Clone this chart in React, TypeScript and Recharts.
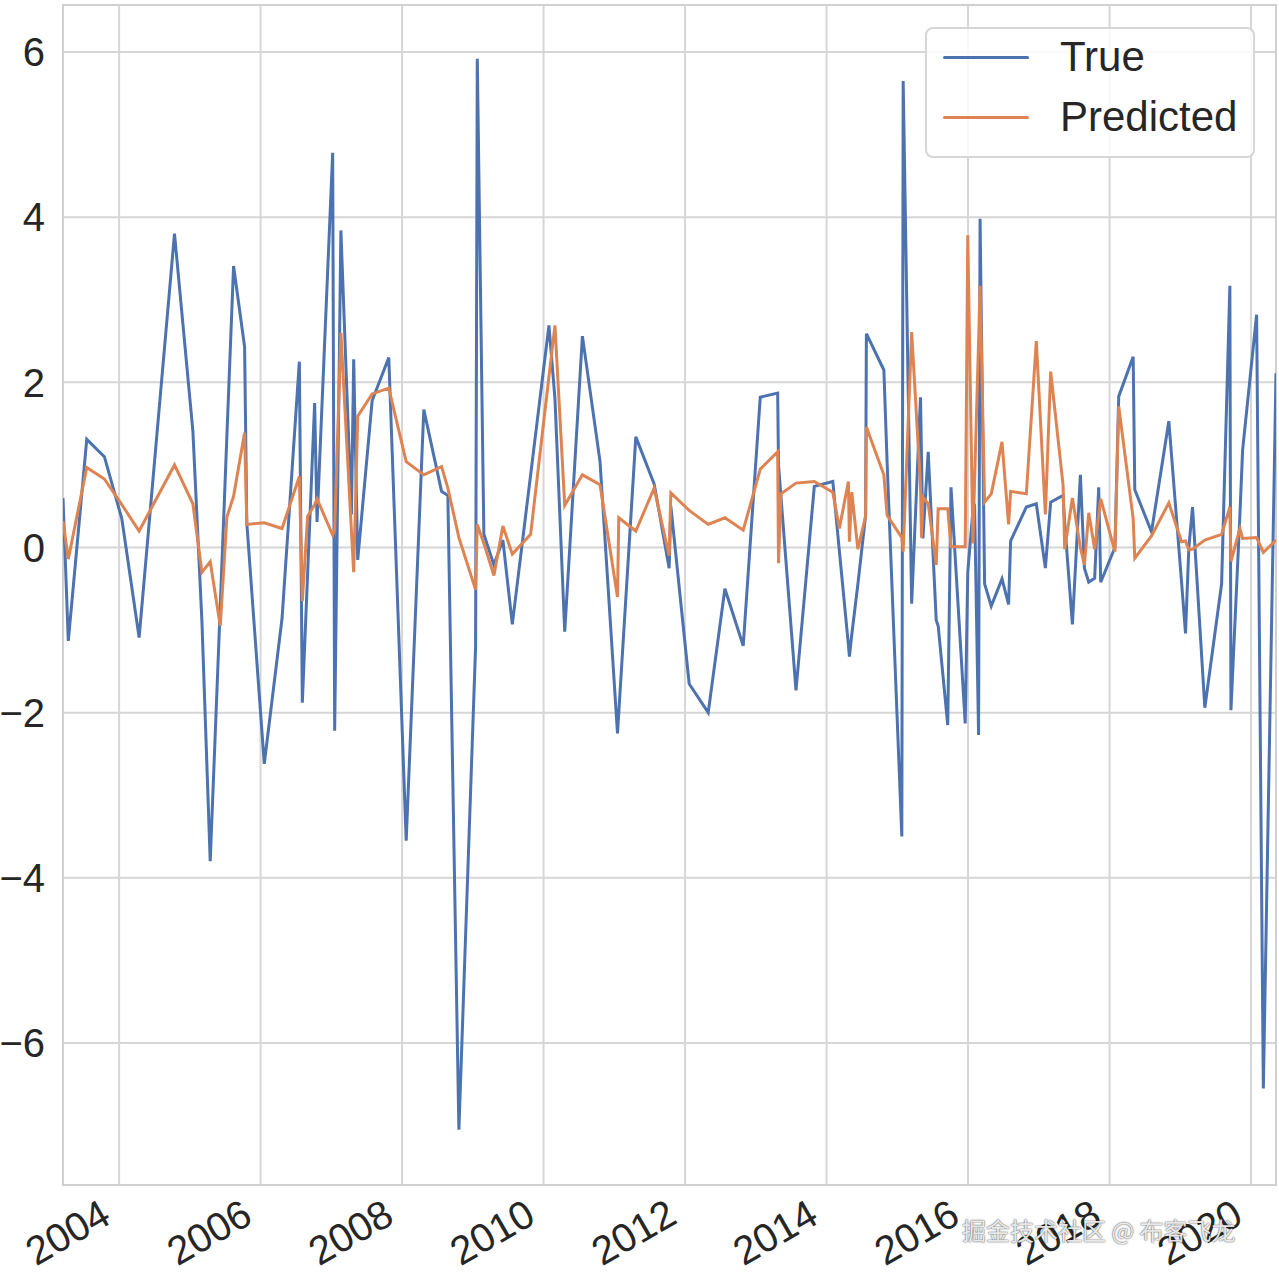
import React from "react";
import { LineChart, Line, XAxis, YAxis, CartesianGrid, ReferenceArea } from "recharts";

// decimal-year dates of each observation
const dates = [
  2003.207, 2003.282, 2003.543, 2003.792, 2004.038, 2004.283, 2004.783, 2005.043, 2005.171, 2005.288,
  2005.43, 2005.524, 2005.618, 2005.774, 2005.805, 2006.052, 2006.303, 2006.548, 2006.59, 2006.665,
  2006.764, 2006.798, 2007.019, 2007.047, 2007.135, 2007.284, 2007.316, 2007.373, 2007.577, 2007.812,
  2008.058, 2008.307, 2008.558, 2008.647, 2008.803, 2009.039, 2009.063, 2009.156, 2009.298, 2009.425,
  2009.558, 2009.817, 2010.076, 2010.161, 2010.299, 2010.549, 2010.798, 2011.045, 2011.063, 2011.304,
  2011.563, 2011.775, 2011.799, 2012.058, 2012.327, 2012.563, 2012.822, 2013.063, 2013.309, 2013.321,
  2013.356, 2013.568, 2013.827, 2014.088, 2014.181, 2014.309, 2014.323, 2014.357, 2014.442, 2014.552,
  2014.563, 2014.81, 2014.856, 2015.064, 2015.083, 2015.203, 2015.328, 2015.342, 2015.362, 2015.437,
  2015.55, 2015.578, 2015.713, 2015.759, 2015.96, 2015.996, 2016.069, 2016.092, 2016.149, 2016.17,
  2016.234, 2016.328, 2016.48, 2016.573, 2016.602, 2016.824, 2016.965, 2017.093, 2017.168, 2017.343,
  2017.366, 2017.475, 2017.588, 2017.645, 2017.706, 2017.79, 2017.847, 2017.875, 2018.076, 2018.13,
  2018.334, 2018.357, 2018.593, 2018.838, 2019.018, 2019.074, 2019.121, 2019.173, 2019.347, 2019.584,
  2019.701, 2019.716, 2019.843, 2019.881, 2020.079, 2020.174, 2020.353,
];

const trueValues = [
  0.6, -1.13, 1.31, 1.1, 0.35, -1.09, 3.8, 1.41, -0.9, -3.8,
  -0.71, 1.36, 3.41, 2.43, 0.3, -2.62, -0.86, 2.25, -1.88, -0.31,
  1.75, 0.31, 4.78, -2.22, 3.84, 0.4, 2.28, -0.15, 1.78, 2.3,
  -3.55, 1.67, 0.68, 0.63, -7.05, -1.2, 5.92, 0.16, -0.21, 0.09,
  -0.93, 0.88, 2.69, 1.8, -1.02, 2.56, 1.04, -2.25, -2.0, 1.34,
  0.77, -0.25, 0.5, -1.65, -2.0, -0.5, -1.19, 1.82, 1.87, 1.0,
  0.61, -1.73, 0.74, 0.8, -0.04, -1.18, -1.32, -1.05, -0.45, 0.39,
  2.59, 2.15, 1.03, -3.5, 5.65, -0.68, 1.82, 1.1, 0.11, 1.16,
  -0.88, -0.95, -2.15, 0.73, -2.13, -0.3, 0.45, 0.53, -2.27, 3.98,
  -0.44, -0.71, -0.38, -0.69, 0.08, 0.49, 0.53, -0.25, 0.55, 0.63,
  0.3, -0.93, 0.88, -0.25, -0.42, -0.37, 0.73, -0.42, 0.0, 1.83,
  2.31, 0.7, 0.19, 1.53, -0.42, -1.04, 0.0, 0.49, -1.94, -0.44,
  3.17, -1.97, 0.4, 1.18, 2.82, -6.55, 2.11,
];

const predictedValues = [
  0.32, -0.14, 0.97, 0.83, 0.52, 0.2, 1.0, 0.53, -0.3, -0.17,
  -0.95, 0.37, 0.62, 1.39, 0.28, 0.3, 0.23, 0.86, -0.65, 0.38,
  0.52, 0.59, 0.15, 0.22, 2.6, 0.2, -0.3, 1.59, 1.86, 1.93,
  1.04, 0.88, 0.98, 0.72, 0.12, -0.51, 0.28, 0.05, -0.34, 0.26,
  -0.08, 0.16, 2.07, 2.69, 0.51, 0.88, 0.76, -0.6, 0.36, 0.2,
  0.72, -0.1, 0.66, 0.45, 0.28, 0.36, 0.21, 0.95, 1.16, -0.19,
  0.65, 0.78, 0.8, 0.67, 0.23, 0.8, 0.07, 0.67, -0.02, 0.38,
  1.46, 0.88, 0.39, 0.12, -0.05, 2.61, 0.75, 0.12, 0.61, 0.53,
  -0.21, 0.47, 0.47, 0.01, 0.01, 3.78, 0.05, 0.8, 2.5, 3.17,
  0.55, 0.65, 1.28, 0.28, 0.68, 0.65, 2.5, 0.4, 2.13, 0.76,
  -0.02, 0.6, 0.0, -0.21, 0.42, -0.02, 0.4, 0.59, -0.05, 1.71,
  0.35, -0.13, 0.14, 0.54, 0.07, 0.08, -0.03, -0.02, 0.09, 0.16,
  0.49, -0.17, 0.23, 0.11, 0.12, -0.06, 0.09,
];

const xTicks = [2004, 2006, 2008, 2010, 2012, 2014, 2016, 2018, 2020];
const yTicks = [-6, -4, -2, 0, 2, 4, 6];
const seriesNames = ["True", "Predicted"];
const seriesColors = ["#4c72b0", "#dd8452"];
const watermark = "掘金技术社区 @ 布客飞龙";

const X_DOMAIN: [number, number] = [2003.207, 2020.353];
const Y_DOMAIN: [number, number] = [-7.72, 6.57];

const data = dates.map((d, i) => ({
  date: d,
  trueVal: trueValues[i],
  predicted: predictedValues[i],
}));

const FONT = "Arial, 'Liberation Sans', Helvetica, sans-serif";
const TEXT = "#262626";

const XTick = (props: any) => {
  const { x, y, payload } = props;
  const ax = x - 6;
  const ay = y + 37;
  return (
    <text
      x={ax}
      y={ay}
      textAnchor="end"
      fontSize={40}
      fontFamily={FONT}
      fill={TEXT}
      transform={`rotate(-30, ${ax}, ${ay})`}
    >
      {String(payload.value)}
    </text>
  );
};

const fmtY = (v: number) => (v < 0 ? "\u2212" + Math.abs(v) : String(v));

export default function App() {
  return (
    <div style={{ position: "absolute", left: 0, top: 0, width: 1279, height: 1275, background: "#fff" }}>
      <LineChart width={1279} height={1275} data={data} margin={{ top: 5, right: 3, bottom: 0, left: 0 }}>
        <CartesianGrid stroke="#d6d6d6" strokeWidth={2} />
        <XAxis
          dataKey="date"
          type="number"
          domain={X_DOMAIN}
          ticks={xTicks}
          allowDataOverflow
          height={90}
          tickLine={false}
          axisLine={false}
          tickSize={0}
          tickMargin={0}
          tick={<XTick />}
          interval={0}
        />
        <YAxis
          type="number"
          domain={Y_DOMAIN}
          ticks={yTicks}
          allowDataOverflow
          width={63}
          tickLine={false}
          axisLine={false}
          tickSize={0}
          tickMargin={18}
          tickFormatter={fmtY}
          tick={{ fontSize: 40, fontFamily: FONT, fill: TEXT }}
          interval={0}
        />
        <ReferenceArea
          x1={X_DOMAIN[0]}
          x2={X_DOMAIN[1]}
          y1={Y_DOMAIN[0]}
          y2={Y_DOMAIN[1]}
          fill="none"
          stroke="#d0d0d0"
          strokeWidth={2}
          ifOverflow="visible"
        />
        <Line
          type="linear"
          dataKey="trueVal"
          name={seriesNames[0]}
          stroke={seriesColors[0]}
          strokeWidth={3}
          dot={false}
          isAnimationActive={false}
        />
        <Line
          type="linear"
          dataKey="predicted"
          name={seriesNames[1]}
          stroke={seriesColors[1]}
          strokeWidth={3}
          dot={false}
          isAnimationActive={false}
        />
      </LineChart>
      <div
        style={{
          position: "absolute",
          left: 925,
          top: 27,
          width: 326,
          height: 127,
          border: "2px solid #d6d6d6",
          borderRadius: 8,
          background: "rgba(255,255,255,0.85)",
          fontFamily: FONT,
          fontSize: 42,
          color: TEXT,
        }}
      >
        {seriesNames.map((n, i) => (
          <div key={n} style={{ position: "absolute", left: 0, top: 4 + i * 60, height: 48, width: 320 }}>
            <div
              style={{
                position: "absolute",
                left: 16,
                top: 23,
                width: 86,
                height: 3,
                background: seriesColors[i],
                borderRadius: 1.5,
              }}
            />
            <div style={{ position: "absolute", left: 133, top: 0, lineHeight: "48px", whiteSpace: "nowrap" }}>{n}</div>
          </div>
        ))}
      </div>
      <div
        style={{
          position: "absolute",
          left: 962,
          top: 1212,
          fontFamily: "'Noto Sans CJK SC', sans-serif",
          fontSize: 24,
          color: "rgba(255,255,255,0.9)",
          textShadow: "0 0 2px rgba(0,0,0,0.55), 0 0 1px rgba(0,0,0,0.55)",
          whiteSpace: "nowrap",
        }}
      >
        {watermark}
      </div>
    </div>
  );
}
